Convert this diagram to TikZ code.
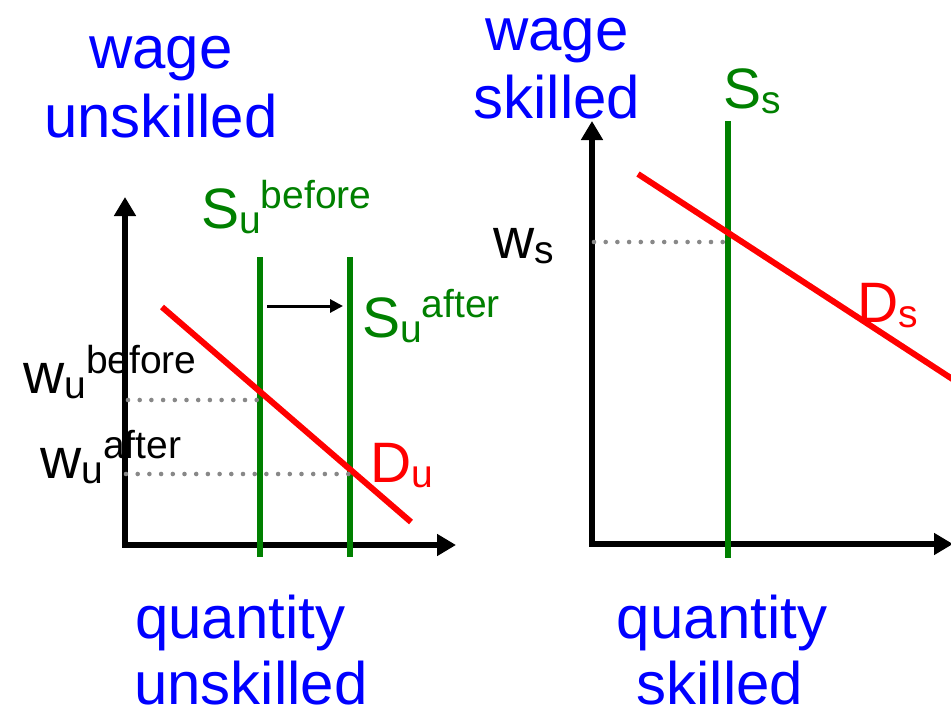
\documentclass[tikz,border=0pt]{standalone}
\usepackage{fontspec}
\setmainfont{Liberation Sans}
\usetikzlibrary{arrows.meta}
\definecolor{pgreen}{RGB}{0,128,0}
\definecolor{pblue}{RGB}{0,0,255}
\definecolor{pred}{RGB}{255,0,0}
\definecolor{pgray}{RGB}{136,136,136}
\newcommand{\mainsz}{\fontsize{57}{60}\selectfont}
\newcommand{\scrsz}{\fontsize{39}{42}\selectfont}
\newcommand{\titlesz}{\fontsize{60}{64}\selectfont}
\newcommand{\lblss}[3]{{\mainsz #1}{\scrsz\raisebox{-5pt}{#2}\raisebox{20pt}{#3}}}
\tikzset{
  axisline/.style={line width=5.5pt, line join=miter,
    {Triangle[width=21pt,length=19pt]}-{Triangle[width=21pt,length=19pt]}},
  supply/.style={draw=pgreen, line width=5.5pt},
  demand/.style={draw=pred, line width=6pt},
  guide/.style={draw=pgray, line width=4.6pt, line cap=round, dash pattern=on 0pt off 11.7pt},
  shiftarrow/.style={draw=black, line width=3pt, -{Triangle[width=13pt,length=13pt]}},
  title/.style={text=pblue, font=\titlesz, inner sep=0pt, anchor=base},
  lbl/.style={inner sep=0pt, anchor=base west},
}
\begin{document}
\begin{tikzpicture}[x=1pt,y=-1pt]
\useasboundingbox (0,0) rectangle (951,710);
% ---------- titles ----------
\node[title] (tl1) at (161,68) {wage};
\node[title] (tl2) at (161,137) {unskilled};
\node[title] (tr1) at (557,50) {wage};
\node[title] (tr2) at (557,118) {skilled};
\node[title, anchor=base west] (bl1) at (135,638) {quantity};
\node[title, anchor=base west] (bl2) at (134,704) {unskilled};
\node[title] (br1) at (722,638) {quantity};
\node[title] (br2) at (720,704) {skilled};
% ---------- coordinates ----------
\coordinate (LyT) at (125,197);
\coordinate (LO) at (125,545);
\coordinate (LxT) at (456,545);
\coordinate (RyT) at (592,121);
\coordinate (RO) at (592,544);
\coordinate (RxT) at (953,544);
\coordinate (SbT) at (260,257); \coordinate (SbB) at (260,557);
\coordinate (SaT) at (350,257); \coordinate (SaB) at (350,557);
\coordinate (SsT) at (728,121); \coordinate (SsB) at (728,558);
\coordinate (DuA) at (162,307); \coordinate (DuB) at (411,522);
\coordinate (DsA) at (638,174); \coordinate (DsB) at (960,384);
\coordinate (ArA) at (267,306); \coordinate (ArB) at (343,306);
\coordinate (G1a) at (128,400); \coordinate (G1b) at (260,400);
\coordinate (G2a) at (126,474); \coordinate (G2b) at (350,474);
\coordinate (G3a) at (594,242); \coordinate (G3b) at (728,242);
% ---------- axes ----------
\draw[axisline] (LyT) -- (LO) -- (LxT);
\draw[axisline] (RyT) -- (RO) -- (RxT);
% ---------- supply ----------
\draw[supply] (SbT) -- (SbB);
\draw[supply] (SaT) -- (SaB);
\draw[supply] (SsT) -- (SsB);
% ---------- demand ----------
\draw[demand] (DuA) -- (DuB);
\draw[demand] (DsA) -- (DsB);
% ---------- shift arrow ----------
\draw[shiftarrow] (ArA) -- (ArB);
% ---------- guides ----------
\draw[guide] (G1a) -- (G1b);
\draw[guide] (G2a) -- (G2b);
\draw[guide] (G3a) -- (G3b);
% ---------- labels ----------
\node[lbl, text=pgreen] (Sub) at (201,228) {\lblss{S}{u}{before}};
\node[lbl, text=pgreen] (Sua) at (362,337) {\lblss{S}{u}{after}};
\node[lbl, text=pgreen] (Ss) at (723,108) {\lblss{S}{s}{}};
\node[lbl, text=pred] (Du) at (370,482) {\lblss{D}{u}{}};
\node[lbl, text=pred] (Ds) at (857,322) {\lblss{D}{s}{}};
\node[lbl] (wub) at (23,393) {\lblss{w}{u}{before}};
\node[lbl] (wua) at (40,478) {\lblss{w}{u}{after}};
\node[lbl] (ws) at (493,258) {\lblss{w}{s}{}};
\end{tikzpicture}
\end{document}
